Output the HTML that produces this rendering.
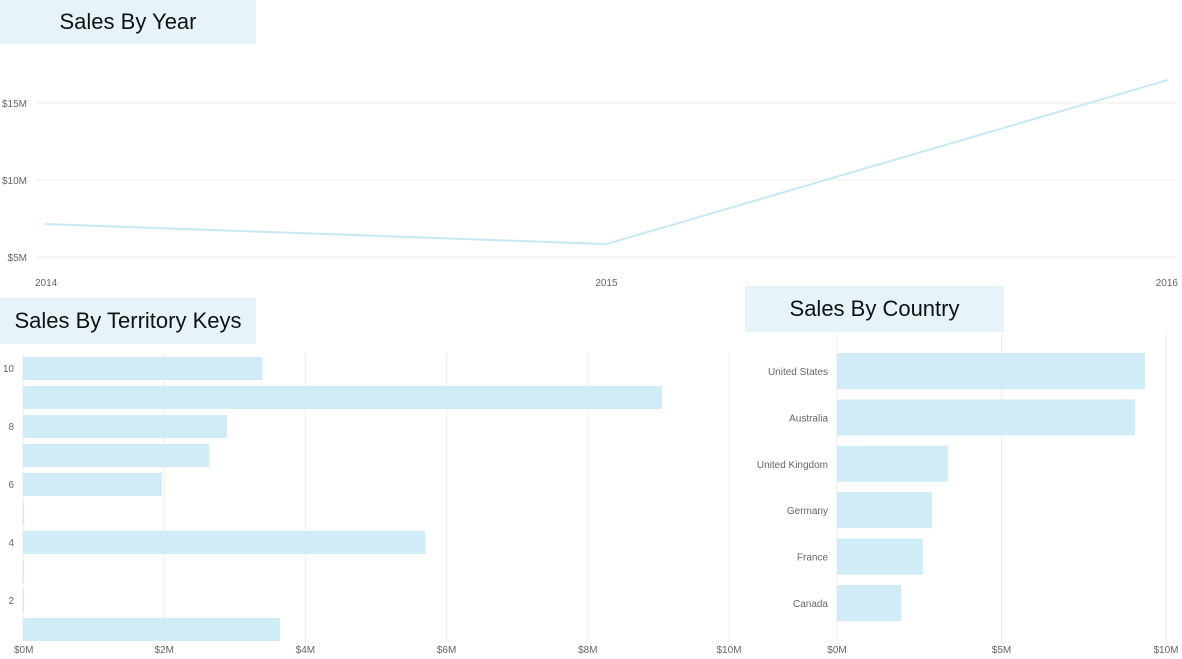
<!DOCTYPE html>
<html><head><meta charset="utf-8"><style>
body{margin:0;width:1182px;height:659px;overflow:hidden;background:#fff;font-family:"Liberation Sans",sans-serif}
.title{position:absolute;background:#e6f4fa;color:#111;font-size:22px;display:flex;align-items:center;justify-content:center}
svg{position:absolute;left:0;top:0}
text{font-family:"Liberation Sans",sans-serif;font-size:10px;fill:#666}
</style></head><body>
<div class="title" style="left:0;top:0;width:256px;height:44px">Sales By Year</div>
<div class="title" style="left:0;top:298px;width:256px;height:46px">Sales By Territory Keys</div>
<div class="title" style="left:745px;top:286px;width:259px;height:46px">Sales By Country</div>
<svg id="s" width="1182" height="659"></svg>
<script>
const years=["2014","2015","2016"];
const yearSales=[7.14,5.84,16.5];
const yearTicks=[5,10,15];
const terrKeys=[10,9,8,7,6,5,4,3,2,1];
const terrSales=[3.39,9.05,2.89,2.64,1.97,0.01,5.70,0.01,0.01,3.64];
const terrTicks=[0,2,4,6,8,10];
const terrLabels=[10,8,6,4,2];
const countries=["United States","Australia","United Kingdom","Germany","France","Canada"];
const countrySales=[9.36,9.06,3.37,2.89,2.61,1.95];
const countryTicks=[0,5,10];

const s=document.getElementById('s');
function mk(t,a,txt){const e=document.createElementNS('http://www.w3.org/2000/svg',t);for(const k in a)e.setAttribute(k,a[k]);if(txt!==undefined)e.textContent=txt;s.appendChild(e);return e;}

const ly=v=>257-(v-5)*15.4;
const lx=i=>45+i*561.5;
yearTicks.forEach(t=>{
  const g=mk('line',{x1:36,x2:1176,y1:ly(t),y2:ly(t),stroke:'#ececec'});
  
  
  const l=mk('text',{x:27,y:ly(t)+4,'text-anchor':'end'},'$'+t+'M');
  
  
});
years.forEach((y,i)=>{
  const l=mk('text',{x:i==0?35:(i==2?1178:lx(i)),y:286,'text-anchor':i==0?'start':(i==2?'end':'middle')},y);
  
  
});
const line=mk('polyline',{points:yearSales.map((v,i)=>lx(i)+','+ly(v)).join(' '),fill:'none',stroke:'#c8e8f3','stroke-width':2});



const tx=v=>23+v*70.6;
terrTicks.forEach(t=>{
  const g=mk('line',{x1:tx(t),x2:tx(t),y1:353,y2:642,stroke:'#ececec'});
  
  
  const l=mk('text',{x:tx(t),y:653,'text-anchor':t==0?'start':'middle',dx:t==0?-9:0},'$'+t+'M');
  
  
});
terrKeys.forEach((k,i)=>{
  const y=357+i*29;
  const b=mk('rect',{x:23,y:y,width:Math.max(1,terrSales[i]*70.6),height:23,fill:'#d0ecf6'});
  
  
  if(terrLabels.includes(k)){
    const l=mk('text',{x:14,y:y+15,'text-anchor':'end'},String(k));
    
    
  }
});

const cx=v=>837+v*32.9;
countryTicks.forEach(t=>{
  const g=mk('line',{x1:cx(t),x2:cx(t),y1:334,y2:642,stroke:'#ececec'});
  
  
  const l=mk('text',{x:cx(t),y:653,'text-anchor':'middle'},'$'+t+'M');
  
  
});
countries.forEach((c,i)=>{
  const y=353+i*46.4;
  const b=mk('rect',{x:837,y:y,width:countrySales[i]*32.9,height:36,fill:'#d0ecf6'});
  
  
  const l=mk('text',{x:828,y:y+22,'text-anchor':'end'},c);
  
  
});
</script>
</body></html>
